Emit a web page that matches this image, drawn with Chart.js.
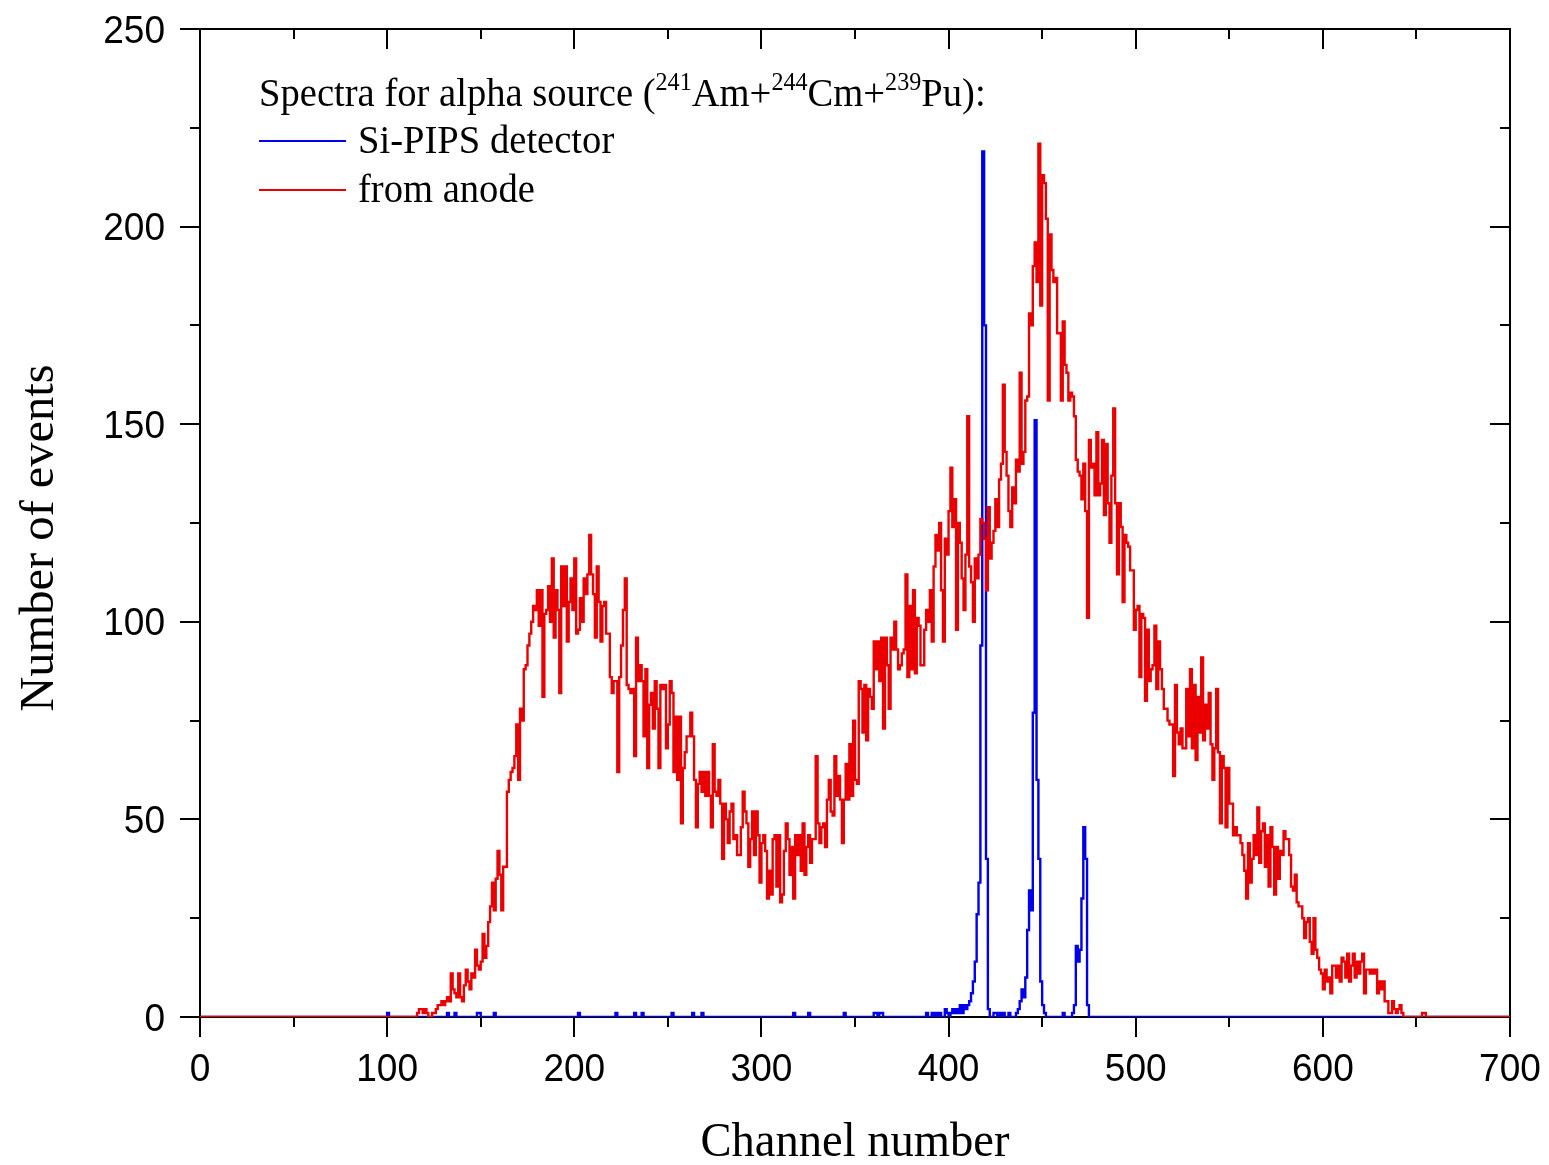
<!DOCTYPE html>
<html><head><meta charset="utf-8">
<script src="https://cdn.jsdelivr.net/npm/chart.js@4.4.0/dist/chart.umd.min.js"></script>
<style>html,body{margin:0;padding:0;background:#fff;} #wrap{width:1549px;height:1165px;position:relative;}</style>
</head><body><div id="wrap"><canvas id="c"></canvas></div>
<script>
// ---- Data ----
const xTickValues = [0, 100, 200, 300, 400, 500, 600, 700];
const xTickLabels = ['0', '100', '200', '300', '400', '500', '600', '700'];
const yTickValues = [0, 50, 100, 150, 200, 250];
const yTickLabels = ['0', '50', '100', '150', '200', '250'];
const xTitle = 'Channel number';
const yTitle = 'Number of events';
const legendTitleParts = [
  ['Spectra for alpha source (', false], ['241', true], ['Am+', false],
  ['244', true], ['Cm+', false], ['239', true], ['Pu):', false]
];
const seriesNames = ['Si-PIPS detector', 'from anode'];

// anode spectrum, counts per channel starting at channel redStart
const redStart = 110;
const redCounts = [
  0,0,0,0,0,0,0,1,2,2,
  1,2,1,0,0,1,1,2,3,3,
  4,3,4,5,4,11,7,6,5,11,
  5,4,8,12,9,7,11,10,17,13,
  12,14,21,15,18,24,28,34,27,35,
  42,36,27,38,38,57,60,62,63,66,
  74,60,78,75,88,89,94,97,100,104,
  103,108,99,108,81,102,103,109,100,116,
  96,108,103,82,114,104,114,95,105,111,
  103,116,97,98,106,100,111,107,112,122,
  112,107,96,114,105,95,104,105,97,97,
  86,82,85,85,62,86,94,103,111,84,
  83,82,83,66,96,85,89,85,71,88,
  63,79,82,73,85,78,63,84,83,84,
  68,74,85,82,62,76,60,76,49,63,
  67,71,71,77,71,60,48,59,62,57,
  62,56,62,56,48,69,57,56,60,54,
  40,54,50,44,52,54,45,46,41,41,
  48,57,52,49,38,45,52,41,52,46,
  34,44,46,42,30,37,31,45,46,33,
  46,29,31,42,49,45,36,43,30,46,
  41,46,37,49,36,43,46,39,45,45,
  66,49,44,48,49,43,55,60,52,51,
  66,56,61,55,44,55,64,55,69,56,
  75,60,59,85,83,72,84,70,83,81,
  78,95,88,95,85,96,73,96,89,78,
  96,93,100,93,88,89,92,93,112,86,
  104,88,108,87,101,99,89,89,98,103,
  100,108,95,114,122,118,125,108,95,121,
  117,128,139,124,131,98,125,120,111,103,
  117,152,114,110,100,116,111,117,126,125,
  121,108,129,116,120,123,131,124,136,140,
  160,143,137,128,124,134,130,141,138,163,
  140,143,156,157,178,175,190,196,186,221,
  180,213,211,202,156,198,189,186,187,173,
  173,156,176,165,163,156,158,157,152,141,
  138,137,131,140,128,101,146,139,140,132,
  148,132,135,146,127,145,130,120,137,154,
  130,112,130,124,105,122,120,119,113,113,
  98,103,104,86,102,101,80,98,85,88,
  89,99,83,95,88,83,78,78,75,74,
  74,61,84,72,69,73,68,68,83,71,
  88,68,84,65,81,72,91,70,79,73,
  82,69,60,68,83,67,49,66,63,48,
  63,54,54,46,48,46,46,44,41,37,
  30,44,34,40,46,41,53,39,47,49,
  38,46,33,48,43,31,43,35,42,41,
  47,45,45,41,33,32,36,29,28,28,
  25,20,24,25,19,16,25,17,15,12,
  11,7,12,9,10,6,13,13,10,13,
  9,15,14,10,16,9,13,16,10,14,
  11,14,16,6,12,12,11,12,11,12,
  6,9,7,9,4,4,1,1,4,2,
  1,2,3,1,0,0,0,0,0,0,
  0,0,0,0,1,1,0
];

// Si-PIPS spectrum, counts per channel starting at channel blueStart
const blueStart = 100;
const blueCounts = [
  0,1,0,0,0,0,0,0,0,0,
  0,0,0,0,0,0,0,0,0,0,
  0,0,0,0,0,0,0,0,0,0,
  0,0,0,1,0,0,0,1,0,0,
  0,0,0,0,0,0,0,0,0,1,
  1,0,0,0,0,0,0,0,1,0,
  0,0,0,0,0,0,0,0,0,0,
  0,0,0,0,0,0,0,0,0,0,
  0,0,0,0,0,0,0,0,0,0,
  0,0,0,0,0,0,0,0,0,0,
  0,0,0,1,0,0,0,0,0,0,
  0,0,0,0,0,0,0,0,0,0,
  0,0,0,1,0,0,0,0,0,0,
  0,0,0,1,0,0,0,1,0,0,
  0,0,0,0,0,0,0,0,0,0,
  0,0,0,1,0,0,0,0,0,0,
  0,0,0,0,1,0,0,0,0,1,
  0,0,0,0,0,0,0,0,0,0,
  0,0,0,0,0,0,0,0,0,0,
  0,0,0,0,0,0,0,0,0,0,
  0,0,0,0,0,0,0,0,0,0,
  0,0,0,0,0,0,0,0,1,0,
  0,0,0,0,0,0,1,0,0,0,
  0,0,0,0,0,0,0,0,0,0,
  0,0,0,0,0,1,0,0,0,0,
  0,0,0,0,0,0,0,0,0,0,
  0,1,1,0,1,1,0,0,0,0,
  0,0,0,0,0,0,0,0,0,0,
  0,0,0,0,0,0,0,0,0,1,
  0,0,1,0,1,0,1,0,0,2,
  1,0,1,2,1,2,1,3,1,3,
  2,3,4,6,9,14,26,34,94,219,
  175,40,2,0,0,1,1,0,1,0,
  1,0,0,1,0,0,0,1,2,4,
  7,5,10,22,32,27,77,151,60,40,
  9,3,1,0,0,0,0,0,0,0,
  0,0,1,0,0,0,0,1,3,18,
  14,17,30,48,40,3,0
];

const xMin = 0, xMax = 700, yMin = 0, yMax = 250;

function buildPoints(start, counts) {
  const pts = [];
  for (let ch = xMin; ch <= xMax; ch++) {
    const i = ch - start;
    pts.push({ x: ch, y: (i >= 0 && i < counts.length) ? counts[i] : 0 });
  }
  return pts;
}

const RED = '#ea0000';
const BLUE = '#0000ea';

function txt(ctx, s, x, y, font, align, sx) {
  ctx.save();
  ctx.font = font; ctx.textAlign = align; ctx.textBaseline = 'alphabetic';
  ctx.fillStyle = '#000';
  ctx.translate(x, y); ctx.scale(sx, 1);
  ctx.fillText(s, 0, 0);
  ctx.restore();
}

const framePlugin = {
  id: 'frame',
  beforeDatasetsDraw(chart) {
    const ctx = chart.ctx, a = chart.chartArea;
    const xs = chart.scales.x, ys = chart.scales.y;
    ctx.save();
    ctx.strokeStyle = '#000'; ctx.lineWidth = 2; ctx.lineCap = 'butt';
    ctx.strokeRect(a.left, a.top, a.right - a.left, a.bottom - a.top);
    ctx.beginPath();
    for (let v = xMin; v <= xMax; v += 50) {
      const px = Math.round(xs.getPixelForValue(v));
      const len = (v % 100 === 0) ? 20 : 10;
      ctx.moveTo(px, a.bottom); ctx.lineTo(px, a.bottom + len);
      ctx.moveTo(px, a.top); ctx.lineTo(px, a.top + len);
    }
    for (let v = yMin; v <= yMax; v += 25) {
      const py = Math.round(ys.getPixelForValue(v));
      const len = (v % 50 === 0) ? 20 : 10;
      ctx.moveTo(a.left, py); ctx.lineTo(a.left - len, py);
      ctx.moveTo(a.right, py); ctx.lineTo(a.right - len, py);
    }
    ctx.stroke();
    ctx.restore();
  },
  afterDraw(chart) {
    const ctx = chart.ctx, a = chart.chartArea;
    const xs = chart.scales.x, ys = chart.scales.y;
    const tickFont = '39px "Liberation Sans", Arial, sans-serif';
    xTickValues.forEach((v, i) => {
      txt(ctx, xTickLabels[i], xs.getPixelForValue(v), a.bottom + 64, tickFont, 'center', 0.95);
    });
    yTickValues.forEach((v, i) => {
      txt(ctx, yTickLabels[i], a.left - 35, ys.getPixelForValue(v) + 13.5, tickFont, 'right', 0.95);
    });
    const titleFont = '48px "Liberation Serif", "Times New Roman", serif';
    txt(ctx, xTitle, (a.left + a.right) / 2, 1156, titleFont, 'center', 0.97);
    ctx.save();
    ctx.translate(53, 538); ctx.rotate(-Math.PI / 2);
    txt(ctx, yTitle, 0, 0, titleFont, 'center', 1.01);
    ctx.restore();

    // legend
    const lf = '40px "Liberation Serif", "Times New Roman", serif';
    const sf = '25px "Liberation Serif", "Times New Roman", serif';
    const sx = 0.965;
    let x = 259;
    legendTitleParts.forEach(([s, sup]) => {
      ctx.save(); ctx.font = sup ? sf : lf;
      const w = ctx.measureText(s).width * sx;
      ctx.restore();
      txt(ctx, s, x, sup ? 90 : 106, sup ? sf : lf, 'left', sx);
      x += w;
    });
    const items = [[BLUE, seriesNames[0], 141], [RED, seriesNames[1], 190]];
    items.forEach(([c, s, y]) => {
      ctx.save(); ctx.strokeStyle = c; ctx.lineWidth = 2;
      ctx.beginPath(); ctx.moveTo(259, y); ctx.lineTo(346, y); ctx.stroke(); ctx.restore();
      txt(ctx, s, 358, y + 12, lf, 'left', sx);
    });
  }
};

new Chart(document.getElementById('c'), {
  type: 'line',
  data: {
    datasets: [
      { label: seriesNames[1], data: buildPoints(redStart, redCounts), borderColor: RED, borderWidth: 2.4,
        stepped: 'after', pointRadius: 0, fill: false, order: 0 },
      { label: seriesNames[0], data: buildPoints(blueStart, blueCounts), borderColor: BLUE, borderWidth: 2.4,
        stepped: 'after', pointRadius: 0, fill: false, order: 1 }
    ]
  },
  options: {
    responsive: true, maintainAspectRatio: false, animation: false, devicePixelRatio: 1,
    events: [],
    layout: { padding: { left: 200, right: 39, top: 29, bottom: 148 } },
    scales: {
      x: { type: 'linear', min: xMin, max: xMax, display: false },
      y: { type: 'linear', min: yMin, max: yMax, display: false }
    },
    plugins: { legend: { display: false }, tooltip: { enabled: false } }
  },
  plugins: [framePlugin]
});
</script>
</body></html>
